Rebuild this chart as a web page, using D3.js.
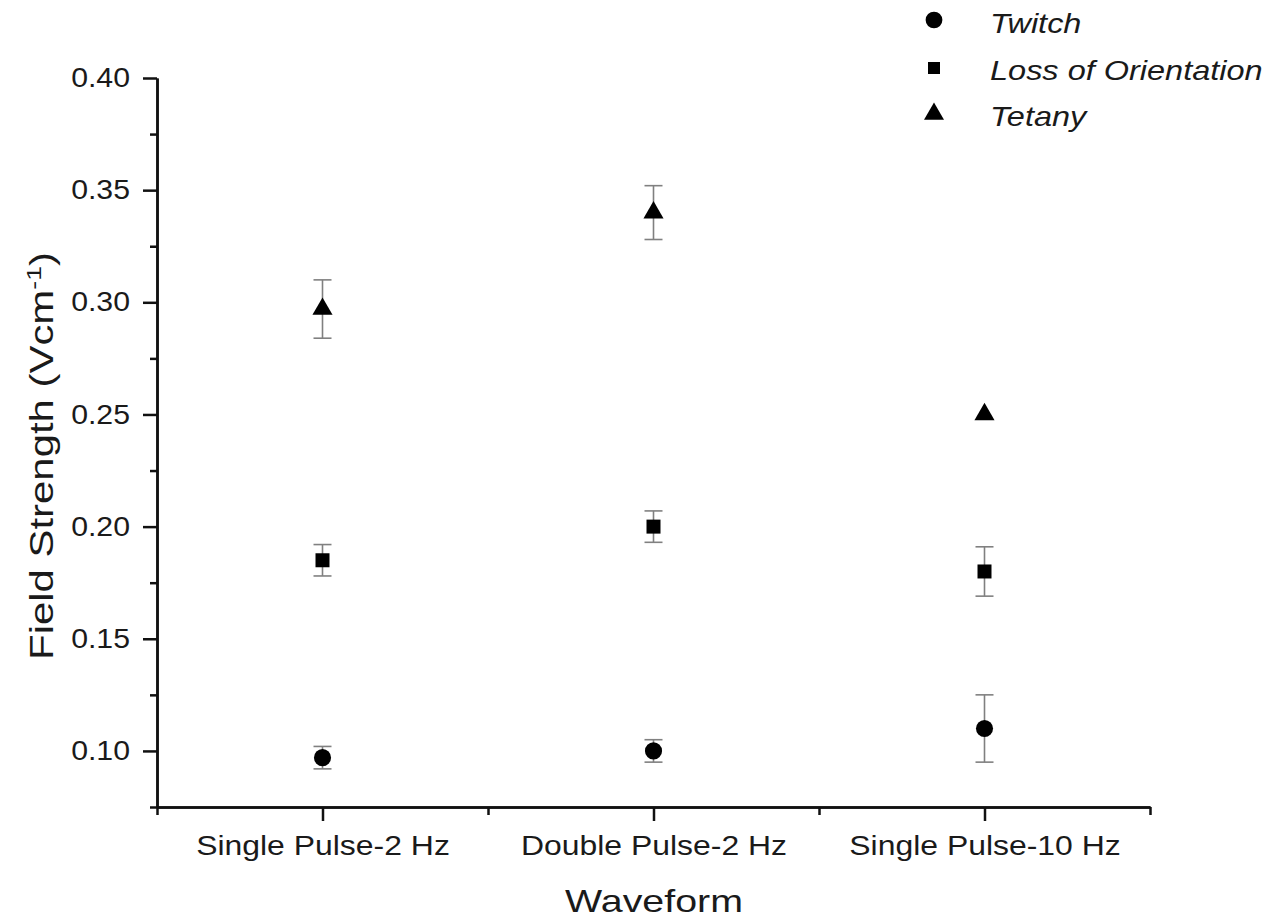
<!DOCTYPE html>
<html><head><meta charset="utf-8">
<script src="https://cdn.jsdelivr.net/npm/d3@7"></script>
<style>body{margin:0;background:#fff}svg{display:block}text{font-family:"Liberation Sans",Arial,sans-serif;fill:#1a1a1a}</style>
</head><body>
<script>
const categories = ["Single Pulse-2 Hz", "Double Pulse-2 Hz", "Single Pulse-10 Hz"];
const seriesNames = ["Twitch", "Loss of Orientation", "Tetany"];
const twitchMean = [0.097, 0.100, 0.110];
const twitchErr = [0.005, 0.005, 0.015];
const lossMean = [0.185, 0.200, 0.180];
const lossErr = [0.007, 0.007, 0.011];
const tetanyMean = [0.297, 0.340, 0.250];
const tetanyErr = [0.013, 0.012, 0];
const yTicks = [0.10, 0.15, 0.20, 0.25, 0.30, 0.35, 0.40];
const yMinorTicks = [0.075, 0.125, 0.175, 0.225, 0.275, 0.325, 0.375];

const W = 1273, H = 924;
const svg = d3.select("body").append("svg").attr("width", W).attr("height", H);
const x = d3.scaleLinear().domain([0.5, 3.5]).range([157, 1150]);
const y = d3.scaleLinear().domain([0.075, 0.40]).range([807, 78]);

function stretch(sel, f) {
  sel.each(function () {
    const L = this.getComputedTextLength();
    d3.select(this).attr("textLength", L * f).attr("lengthAdjust", "spacingAndGlyphs");
  });
}

const g = svg.append("g");
// y axis
const yAx = g.append("g").attr("transform", "translate(157,0)")
  .call(d3.axisLeft(y).tickValues(yTicks).tickFormat(d3.format(".2f")).tickSize(14).tickPadding(13).tickSizeOuter(0));
yAx.selectAll("text").style("font-size", "27px").call(stretch, 1.12);
g.append("g").attr("transform", "translate(157,0)")
  .call(d3.axisLeft(y).tickValues(yMinorTicks).tickFormat("").tickSize(7).tickSizeOuter(0));
// x axis
const xAx = g.append("g").attr("transform", "translate(0,807)")
  .call(d3.axisBottom(x).tickValues([1, 2, 3]).tickFormat((d, i) => categories[i]).tickSize(14).tickPadding(14).tickSizeOuter(0));
xAx.selectAll("text").style("font-size", "28px").call(stretch, 1.14);
g.append("g").attr("transform", "translate(0,807)")
  .call(d3.axisBottom(x).tickValues([0.5, 1.5, 2.5, 3.5]).tickFormat("").tickSize(8).tickSizeOuter(0));
svg.selectAll(".domain, .tick line").attr("stroke", "#111").attr("stroke-width", 2.5);

// axis titles
svg.append("text").attr("x", 654).attr("y", 912).attr("text-anchor", "middle").style("font-size", "32px").text("Waveform").call(stretch, 1.23);
const yt = svg.append("text").attr("transform", "translate(53,456) rotate(-90) scale(1.27,1)").attr("text-anchor", "middle").style("font-size", "33px");
yt.append("tspan").text("Field Strength (Vcm");
yt.append("tspan").attr("dy", -12).style("font-size", "21px").text("-1");
yt.append("tspan").attr("dy", 12).text(")");

const series = [
  {name: seriesNames[0], mean: twitchMean, err: twitchErr, sym: d3.symbolCircle, size: 230, lsize: 220},
  {name: seriesNames[1], mean: lossMean, err: lossErr, sym: d3.symbolSquare, size: 196, lsize: 144},
  {name: seriesNames[2], mean: tetanyMean, err: tetanyErr, sym: d3.symbolTriangle, size: 175, lsize: 173}
];
series.forEach(s => {
  const gs = svg.append("g");
  s.mean.forEach((m, i) => {
    const cx = x(i + 1);
    if (s.err[i] > 0) {
      const y1 = y(m + s.err[i]), y2 = y(m - s.err[i]);
      gs.append("line").attr("x1", cx).attr("x2", cx).attr("y1", y1).attr("y2", y2).attr("stroke", "#808080").attr("stroke-width", 1.6);
      [y1, y2].forEach(yy => gs.append("line").attr("x1", cx - 9).attr("x2", cx + 9).attr("y1", yy).attr("y2", yy).attr("stroke", "#808080").attr("stroke-width", 1.6));
    }
    gs.append("path").attr("d", d3.symbol().type(s.sym).size(s.size)()).attr("transform", `translate(${cx},${y(m)})`).attr("fill", "#000");
  });
});

// legend
const legSymY = [20, 68, 114];
const legTextY = [33, 80, 126];
series.forEach((s, i) => {
  svg.append("path").attr("d", d3.symbol().type(s.sym).size(s.lsize)()).attr("transform", `translate(934,${legSymY[i]})`).attr("fill", "#000");
  svg.append("text").attr("x", 990).attr("y", legTextY[i]).style("font-size", "28px").style("font-style", "italic").text(s.name).call(stretch, 1.16);
});
</script>
</body></html>
